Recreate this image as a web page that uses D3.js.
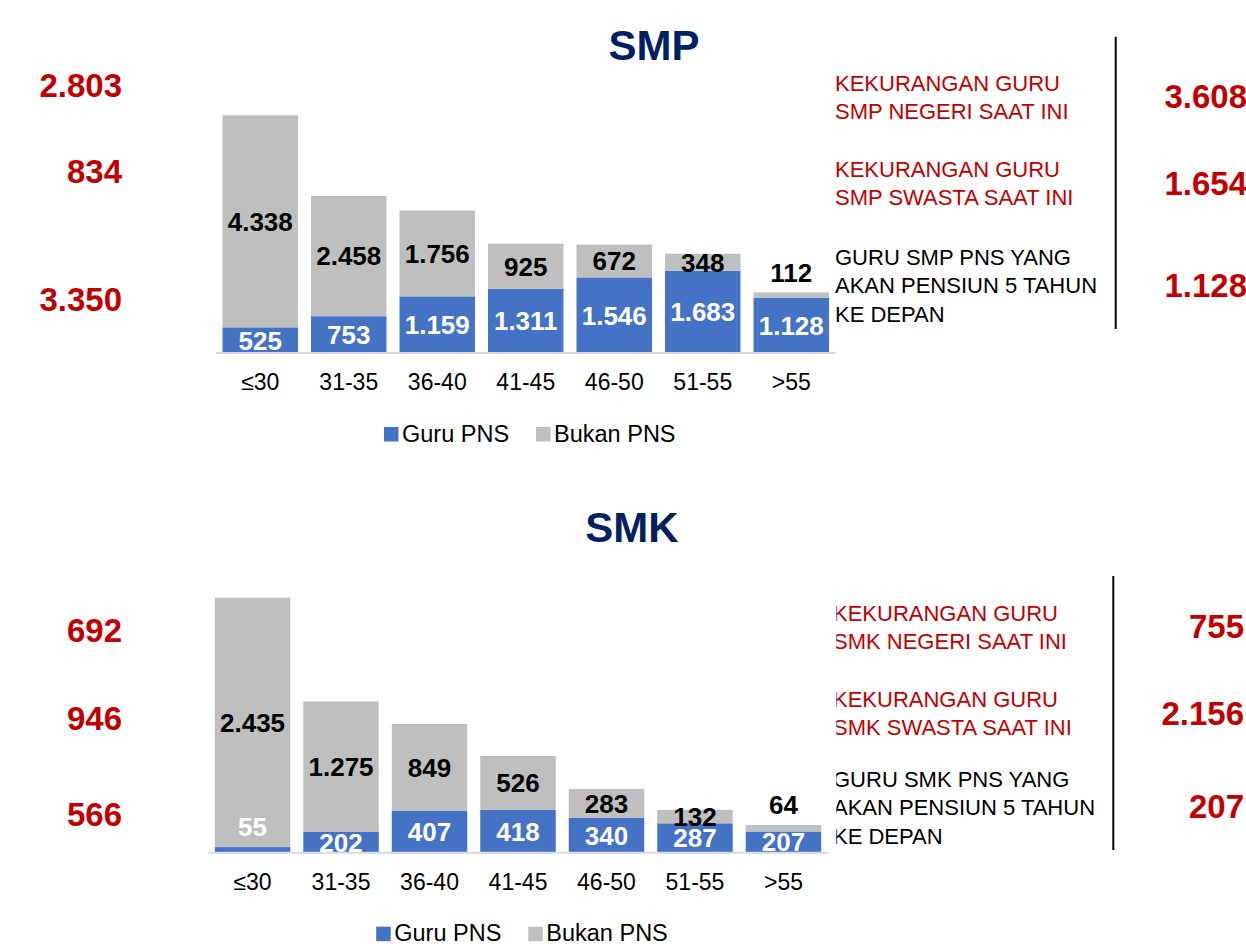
<!DOCTYPE html>
<html>
<head>
<meta charset="utf-8">
<script src="https://cdn.jsdelivr.net/npm/d3@7/dist/d3.min.js"></script>
<style>
  body { margin: 0; background: #fff; overflow: hidden; }
  svg { display: block; font-family: "Liberation Sans", Arial, sans-serif; }
</style>
</head>
<body>
<svg id="chart" width="1246" height="944"></svg>
<script>
// ---- data ----
var ageGroups = ["≤30", "31-35", "36-40", "41-45", "46-50", "51-55", ">55"];
var seriesNames = ["Guru PNS", "Bukan PNS"];

var smpPns   = [525, 753, 1159, 1311, 1546, 1683, 1128];
var smpBukan = [4338, 2458, 1756, 925, 672, 348, 112];
var smkPns   = [55, 202, 407, 418, 340, 287, 207];
var smkBukan = [2435, 1275, 849, 526, 283, 132, 64];

var smpLeftNumbers  = [2803, 834, 3350];
var smpRightNumbers = [3608, 1654, 1128];
var smkLeftNumbers  = [692, 946, 566];
var smkRightNumbers = [755, 2156, 207];

var smpNotes = [
  ["KEKURANGAN GURU", "SMP NEGERI SAAT INI"],
  ["KEKURANGAN GURU", "SMP SWASTA SAAT INI"],
  ["GURU SMP PNS YANG", "AKAN PENSIUN 5 TAHUN", "KE DEPAN"]
];
var smkNotes = [
  ["KEKURANGAN GURU", "SMK NEGERI SAAT INI"],
  ["KEKURANGAN GURU", "SMK SWASTA SAAT INI"],
  ["GURU SMK PNS YANG", "AKAN PENSIUN 5 TAHUN", "KE DEPAN"]
];
var noteColors = ["#C00000", "#C00000", "#000000"];

var colors = { pns: "#4472C4", bukan: "#BFBFBF", red: "#C00000", title: "#002060" };

var id = d3.formatLocale({ decimal: ",", thousands: ".", grouping: [3], currency: ["Rp", ""] });
var fmt = id.format(",d");

var svg = d3.select("#chart");

var panels = [
  { name: "SMP", pns: smpPns, bukan: smpBukan, left: smpLeftNumbers, right: smpRightNumbers, notes: smpNotes,
    x0: 216, x1: 835.5, base: 353, top: 115.3,
    titleX: 654, titleY: 60,
    leftY: [97.3, 183.3, 310.7], rightY: [108.3, 195, 296.7], rightX: 1247,
    noteX: 835, noteClip: 0, noteY: [91, 176.7, 265],
    sepX: 1115.7, sepY0: 36.7, sepY1: 329 },
  { name: "SMK", pns: smkPns, bukan: smkBukan, left: smkLeftNumbers, right: smkRightNumbers, notes: smkNotes,
    x0: 208.3, x1: 827.7, base: 852.7, top: 597.7,
    titleX: 632, titleY: 541.7,
    leftY: [641.7, 730, 826], rightY: [638.3, 725, 818.3], rightX: 1244,
    noteX: 833, noteClip: 836.3, noteY: [620.7, 706.7, 786.7],
    sepX: 1113.3, sepY0: 576, sepY1: 850 }
];

panels.forEach(function (p, pi) {
  var g = svg.append("g");

  var rows = ageGroups.map(function (a, i) {
    return { age: a, pns: p.pns[i], bukan: p.bukan[i] };
  });

  var x = d3.scaleBand().domain(ageGroups).range([p.x0, p.x1])
    .paddingInner(0.147).paddingOuter(0.0735);
  var y = d3.scaleLinear()
    .domain([0, d3.max(rows, function (d) { return d.pns + d.bukan; })])
    .range([p.base, p.top]);

  var stack = d3.stack().keys(["pns", "bukan"])(rows);

  // clip so labels don't go below the baseline
  var clipId = "clip" + pi;
  svg.append("clipPath").attr("id", clipId)
    .append("rect").attr("x", 0).attr("y", 0).attr("width", 1246).attr("height", p.base);

  var layers = g.selectAll("g.layer").data(stack).enter().append("g")
    .attr("class", "layer")
    .attr("fill", function (d) { return d.key == "pns" ? colors.pns : colors.bukan; });

  layers.selectAll("rect").data(function (d) { return d; }).enter().append("rect")
    .attr("x", function (d) { return x(d.data.age); })
    .attr("y", function (d) { return y(d[1]); })
    .attr("width", x.bandwidth())
    .attr("height", function (d) { return y(d[0]) - y(d[1]); });

  // baseline
  g.append("line")
    .attr("x1", p.x0).attr("x2", p.x1)
    .attr("y1", p.base).attr("y2", p.base)
    .attr("stroke", "#D9D9D9").attr("stroke-width", 2);

  // value labels
  var lab = g.append("g").attr("clip-path", "url(#" + clipId + ")");
  stack.forEach(function (layer) {
    lab.selectAll("text." + layer.key).data(layer).enter().append("text")
      .attr("class", layer.key)
      .attr("x", function (d) { return x(d.data.age) + x.bandwidth() / 2; })
      .attr("y", function (d) {
        var h = y(d[0]) - y(d[1]);
        if (h < 10) return y(d[1]) - 20;
        return (y(d[0]) + y(d[1])) / 2;
      })
      .attr("dy", "0.36em")
      .attr("text-anchor", "middle")
      .attr("font-size", 26).attr("font-weight", "bold")
      .attr("fill", layer.key == "pns" ? "#fff" : "#000")
      .text(function (d) { return fmt(d.data[layer.key]); });
  });

  // x axis
  var ax = g.append("g").attr("transform", "translate(0," + p.base + ")")
    .call(d3.axisBottom(x).tickSize(0).tickPadding(20.5));
  ax.select(".domain").remove();
  ax.selectAll("text").attr("font-size", 23).attr("fill", "#000")
    .attr("font-family", "Liberation Sans, Arial, sans-serif");

  // legend
  var leg = g.append("g");
  var ly = p.base + 88.5;
  var cx = 0;
  seriesNames.forEach(function (s, i) {
    leg.append("rect").attr("x", cx).attr("y", ly - 14.5).attr("width", 14.5).attr("height", 14.5)
      .attr("fill", i == 0 ? colors.pns : colors.bukan);
    var t = leg.append("text").attr("x", cx + 18).attr("y", ly)
      .attr("font-size", 23.5).attr("fill", "#000").text(s);
    cx += 18 + t.node().getComputedTextLength() + 27;
  });
  cx -= 27;
  leg.attr("transform", "translate(" + ((p.x0 + p.x1) / 2 + 4 - cx / 2) + ",0)");

  // title
  g.append("text").attr("x", p.titleX).attr("y", p.titleY)
    .attr("text-anchor", "middle").attr("font-size", 42).attr("font-weight", "bold")
    .attr("fill", colors.title).text(p.name);

  // left numbers
  g.selectAll("text.leftnum").data(p.left).enter().append("text")
    .attr("class", "leftnum")
    .attr("x", 122).attr("y", function (d, i) { return p.leftY[i]; })
    .attr("text-anchor", "end").attr("font-size", 33).attr("font-weight", "bold")
    .attr("fill", colors.red).text(function (d) { return fmt(d); });

  // right numbers
  g.selectAll("text.rightnum").data(p.right).enter().append("text")
    .attr("class", "rightnum")
    .attr("x", p.rightX).attr("y", function (d, i) { return p.rightY[i]; })
    .attr("text-anchor", "end").attr("font-size", 33).attr("font-weight", "bold")
    .attr("fill", colors.red).text(function (d) { return fmt(d); });

  // notes
  var notes = g.append("g");
  if (p.noteClip) {
    svg.append("clipPath").attr("id", "noteclip" + pi)
      .append("rect").attr("x", p.noteClip).attr("y", 0).attr("width", 400).attr("height", 944);
    notes.attr("clip-path", "url(#noteclip" + pi + ")");
  }
  p.notes.forEach(function (lines, i) {
    lines.forEach(function (line, j) {
      notes.append("text")
        .attr("x", p.noteX).attr("y", p.noteY[i] + j * 28.4)
        .attr("font-size", 22).attr("fill", noteColors[i]).text(line);
    });
  });

  // separator
  g.append("line")
    .attr("x1", p.sepX).attr("x2", p.sepX).attr("y1", p.sepY0).attr("y2", p.sepY1)
    .attr("stroke", "#000").attr("stroke-width", 2);
});
</script>
</body>
</html>
